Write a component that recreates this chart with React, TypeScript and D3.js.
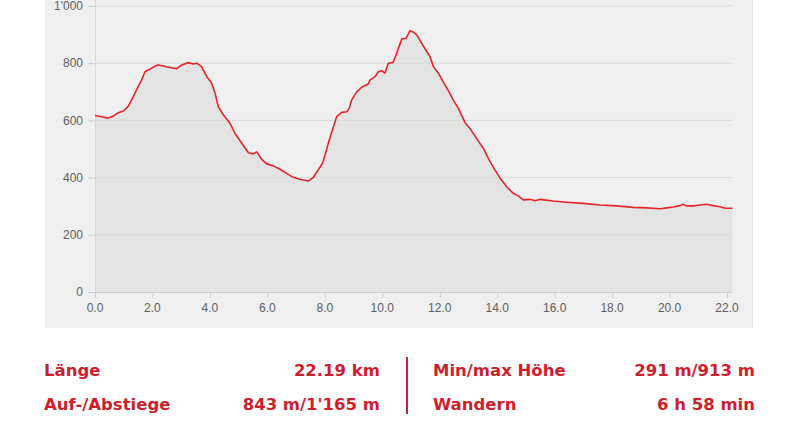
import React from "react";
import * as d3 from "d3";

const distanceKm = [
  0, 0.23, 0.46, 0.64, 0.81, 0.99, 1.16, 1.33, 1.51, 1.62, 1.74, 1.91, 2.09, 2.2, 2.38, 2.55, 2.84, 3.02, 3.25, 3.42, 3.54, 3.71, 3.89, 4.06, 4.18, 4.29, 4.47, 4.7, 4.87, 5.11, 5.34, 5.51, 5.63, 5.8, 5.98, 6.21, 6.44, 6.67, 6.9, 7.13, 7.43, 7.6, 7.77, 7.92, 8.06, 8.12, 8.3, 8.41, 8.59, 8.76, 8.85, 8.93, 9.11, 9.28, 9.51, 9.57, 9.75, 9.86, 9.98, 10.09, 10.21, 10.38, 10.5, 10.68, 10.83, 10.96, 11.08, 11.2, 11.37, 11.55, 11.66, 11.78, 11.95, 12.12, 12.3, 12.47, 12.65, 12.88, 13.05, 13.28, 13.52, 13.75, 13.92, 14.1, 14.33, 14.56, 14.73, 14.91, 15.14, 15.32, 15.49, 15.95, 16.42, 17.0, 17.58, 18.16, 18.74, 19.2, 19.67, 19.9, 20.13, 20.36, 20.48, 20.59, 20.83, 21.06, 21.29, 21.52, 21.75, 21.93, 22.19,
];
const elevationM = [
  617, 613, 608, 615, 627, 633, 650, 683, 720, 741, 770, 779, 790, 794, 790, 786, 781, 794, 802, 797, 800, 788, 753, 730, 695, 648, 619, 590, 555, 520, 487, 483, 490, 464, 448, 441, 429, 415, 401, 394, 388, 401, 427, 450, 497, 520, 578, 613, 628, 630, 642, 671, 700, 716, 727, 741, 753, 770, 774, 765, 800, 803, 835, 885, 887, 913, 909, 899, 870, 840, 823, 788, 765, 735, 704, 671, 642, 592, 572, 537, 502, 456, 427, 398, 368, 345, 336, 322, 324, 319, 324, 318, 314, 310, 304, 301, 296, 294, 291, 294, 297, 302, 307, 301, 301, 304, 307, 302, 298, 293, 293,
];

const xTicks = [0, 2, 4, 6, 8, 10, 12, 14, 16, 18, 20, 22];
const yTicks = [0, 200, 400, 600, 800, 1000];

const statsLeft = [
  { label: "Länge", value: "22.19 km" },
  { label: "Auf-/Abstiege", value: "843 m/1'165 m" },
];
const statsRight = [
  { label: "Min/max Höhe", value: "291 m/913 m" },
  { label: "Wandern", value: "6 h 58 min" },
];

const RED = "#cf1d2e";

export default function App() {
  const x = d3.scaleLinear().domain([0, 22.19]).range([95, 732.5]);
  const y = d3.scaleLinear().domain([0, 1000]).range([292, 6]);
  const pts: [number, number][] = distanceKm.map((d, i) => [d, elevationM[i]]);
  const line = d3
    .line<[number, number]>()
    .x((d) => x(d[0]))
    .y((d) => y(d[1]));
  const area = d3
    .area<[number, number]>()
    .x((d) => x(d[0]))
    .y0(y(0))
    .y1((d) => y(d[1]));
  const yFmt = (v: number) => (v >= 1000 ? d3.format(",")(v).replace(",", "'") : String(v));
  const axisFont = "'Liberation Sans', Arial, sans-serif";
  const statFont = "'DejaVu Sans', Verdana, sans-serif";
  const rowY = [376, 410];
  const statSize = 16.5;

  return (
    <svg
      width={800}
      height={424}
      style={{ position: "fixed", left: 0, top: 0, background: "#fff" }}
    >
      <rect x={45} y={-10} width={708} height={338} fill="#efefef" />
      <line x1={752.5} x2={752.5} y1={-10} y2={328} stroke="#e2e2e2" />
      <path d={area(pts) || ""} fill="#e3e3e3" />
      {yTicks.slice(1).map((t) => (
        <line key={t} x1={95} x2={732} y1={y(t)} y2={y(t)} stroke="#dadada" strokeWidth={1} />
      ))}
      <line x1={95.5} x2={95.5} y1={0} y2={292} stroke="#d8d8d8" />
      <line x1={95} x2={732} y1={292.5} y2={292.5} stroke="#cccccc" />
      {yTicks.map((t) => (
        <g key={t}>
          <line x1={88} x2={95} y1={y(t) + 0.5} y2={y(t) + 0.5} stroke="#cccccc" />
          <text
            x={83}
            y={y(t)}
            dy="0.35em"
            textAnchor="end"
            fontFamily={axisFont}
            fontSize={12}
            fill="#606060"
          >
            {yFmt(t)}
          </text>
        </g>
      ))}
      {xTicks.map((t) => (
        <g key={t}>
          <line x1={x(t) + 0.5} x2={x(t) + 0.5} y1={292} y2={298} stroke="#cccccc" />
          <text
            x={x(t)}
            y={312}
            textAnchor="middle"
            fontFamily={axisFont}
            fontSize={12}
            fill="#606060"
          >
            {t.toFixed(1)}
          </text>
        </g>
      ))}
      <path d={line(pts) || ""} fill="none" stroke="#e8242b" strokeWidth={1.6} strokeLinejoin="round" />

      {statsLeft.map((s, i) => (
        <g key={s.label} fontFamily={statFont} fontWeight="bold" fontSize={statSize} fill={RED}>
          <text x={44} y={rowY[i]}>{s.label}</text>
          <text x={380} y={rowY[i]} textAnchor="end">{s.value}</text>
        </g>
      ))}
      <line x1={407} x2={407} y1={357} y2={414} stroke={RED} strokeWidth={2} />
      {statsRight.map((s, i) => (
        <g key={s.label} fontFamily={statFont} fontWeight="bold" fontSize={statSize} fill={RED}>
          <text x={433} y={rowY[i]}>{s.label}</text>
          <text x={755} y={rowY[i]} textAnchor="end">{s.value}</text>
        </g>
      ))}
    </svg>
  );
}
